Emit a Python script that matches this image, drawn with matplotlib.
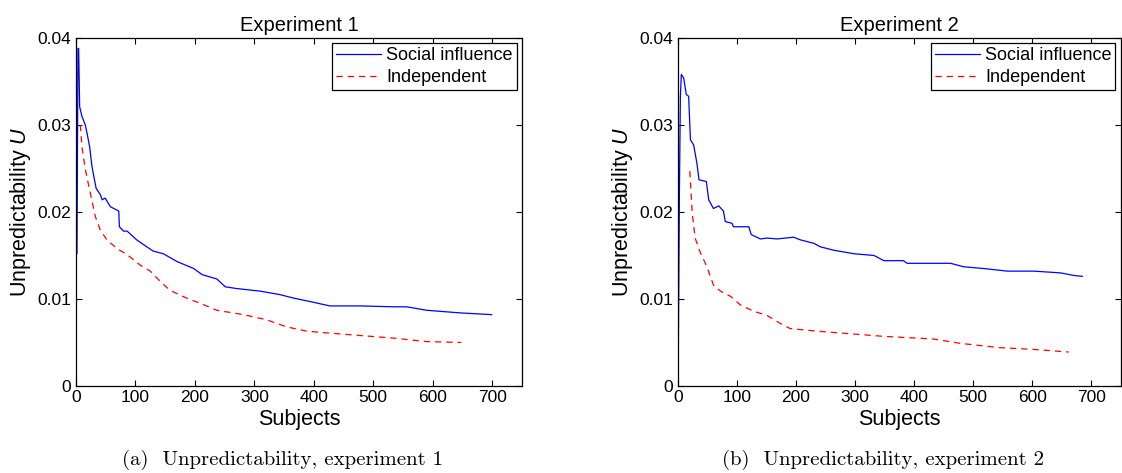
import matplotlib
matplotlib.use('Agg')
import matplotlib.pyplot as plt

plt.rcParams['font.family'] = ['Liberation Sans', 'DejaVu Sans']
plt.rcParams['mathtext.fontset'] = 'custom'
plt.rcParams['mathtext.it'] = 'Liberation Sans:italic'
plt.rcParams['mathtext.rm'] = 'Liberation Sans'

# Experiment 1
exp1_social_x = [0.5, 1.7, 3.4, 4.5, 6.2, 10, 15.7, 18.5, 23, 27, 30, 34, 41, 44, 49, 58, 72, 73,
                 80, 86, 102, 119, 130, 147, 170, 198, 212, 237, 251, 270, 310, 343, 366, 394,
                 427, 478, 534, 556, 590, 646, 699]
exp1_social_y = [0.0152, 0.0152, 0.0388, 0.0388, 0.0321, 0.0310, 0.0300, 0.0291, 0.0275, 0.0252,
                 0.0241, 0.0227, 0.0220, 0.0214, 0.0216, 0.0206, 0.0201, 0.0183, 0.0178, 0.0178,
                 0.0168, 0.0160, 0.0155, 0.0152, 0.0143, 0.0135, 0.0128, 0.0123, 0.0114, 0.0112,
                 0.0109, 0.0105, 0.0101, 0.0097, 0.0092, 0.0092, 0.0091, 0.0091, 0.0087, 0.0084,
                 0.0082]
exp1_indep_x = [7.3, 10, 15.7, 24, 32.5, 41, 52, 69, 86, 108, 125, 142, 158, 186, 209, 237, 282,
                321, 354, 388, 422, 478, 534, 590, 648]
exp1_indep_y = [0.0300, 0.0275, 0.0249, 0.0222, 0.0195, 0.0179, 0.0168, 0.0158, 0.0151, 0.0139,
                0.0132, 0.0120, 0.0110, 0.0101, 0.0095, 0.0087, 0.0082, 0.0076, 0.0068, 0.0063,
                0.0061, 0.0058, 0.0055, 0.0051, 0.0050]

# Experiment 2
exp2_social_x = [0.6, 2.3, 4, 5.6, 9.6, 14, 18, 21, 26.5, 32, 35.6, 48, 52, 60, 69, 77, 80, 91.5,
                 94, 111, 120, 124, 139.5, 151, 168, 196, 207, 230, 241, 264, 298, 332, 349, 382,
                 388, 462, 484, 518, 558, 603, 648, 671, 685]
exp2_social_y = [0.0051, 0.0218, 0.0333, 0.0358, 0.0354, 0.0335, 0.0333, 0.0283, 0.0277, 0.0256,
                 0.0237, 0.0235, 0.0214, 0.0204, 0.0207, 0.0201, 0.0189, 0.0187, 0.0183, 0.0183,
                 0.0183, 0.0174, 0.0169, 0.0170, 0.0169, 0.0171, 0.0168, 0.0164, 0.0160, 0.0156,
                 0.0152, 0.0150, 0.0144, 0.0144, 0.0141, 0.0141, 0.0137, 0.0135, 0.0132, 0.0132,
                 0.0130, 0.0127, 0.0126]
exp2_indep_x = [20, 24, 29, 38, 49, 60, 72, 89, 106, 128, 151, 173, 190, 236, 292, 349, 433, 478,
                546, 603, 662]
exp2_indep_y = [0.0247, 0.0199, 0.0170, 0.0153, 0.0137, 0.0116, 0.0109, 0.0103, 0.0093, 0.0086,
                0.0081, 0.0072, 0.0066, 0.0063, 0.0060, 0.0057, 0.0054, 0.0049, 0.0044, 0.0042,
                0.0039]

titles = ["Experiment 1", "Experiment 2"]
captions = ["(a)  Unpredictability, experiment 1", "(b)  Unpredictability, experiment 2"]
x_ticks = [0, 100, 200, 300, 400, 500, 600, 700]
y_ticks = [0, 0.01, 0.02, 0.03, 0.04]
y_ticklabels = ["0", "0.01", "0.02", "0.03", "0.04"]

fig = plt.figure(figsize=(11.22, 4.73), dpi=100)
ax_rects = [[0.0677, 0.184, 0.3975, 0.7357], [0.6043, 0.184, 0.3945, 0.7357]]
series = [(exp1_social_x, exp1_social_y, exp1_indep_x, exp1_indep_y),
          (exp2_social_x, exp2_social_y, exp2_indep_x, exp2_indep_y)]

for i, rect in enumerate(ax_rects):
    ax = fig.add_axes(rect)
    sx, sy, ix, iy = series[i]
    ax.plot(sx, sy, color='#0000ff', lw=0.9, label='Social influence')
    ax.plot(ix, iy, color='#ff0000', lw=0.9, ls=(0, (5, 4)), label='Independent')
    ax.set_xlim(0, 750)
    ax.set_ylim(0, 0.04)
    ax.set_xticks(x_ticks)
    ax.set_yticks(y_ticks)
    ax.set_yticklabels(y_ticklabels)
    ax.tick_params(direction='in', top=True, right=True, labelsize=12.5, length=4, width=0.8)
    ax.tick_params(axis='x', pad=3)
    for sp in ax.spines.values():
        sp.set_linewidth(0.9)
    ax.set_title(titles[i], fontsize=14.5, pad=5)
    ax.set_xlabel("Subjects", fontsize=15.5, labelpad=3)
    ax.set_ylabel("Unpredictability $U$", fontsize=15.5, labelpad=3)
    leg = ax.legend(loc='upper right', fontsize=13, fancybox=False, framealpha=1,
                    edgecolor='black', borderpad=0.2, labelspacing=0.3,
                    handlelength=2.5, handletextpad=0.3, borderaxespad=0.3)
    leg.get_frame().set_linewidth(0.9)
    cx = rect[0] + rect[2] / 2 - 0.015
    fig.text(cx, 0.028, captions[i], ha='center', va='center', fontsize=15,
             family='cmr10')

fig.savefig('out.png', dpi=100)
